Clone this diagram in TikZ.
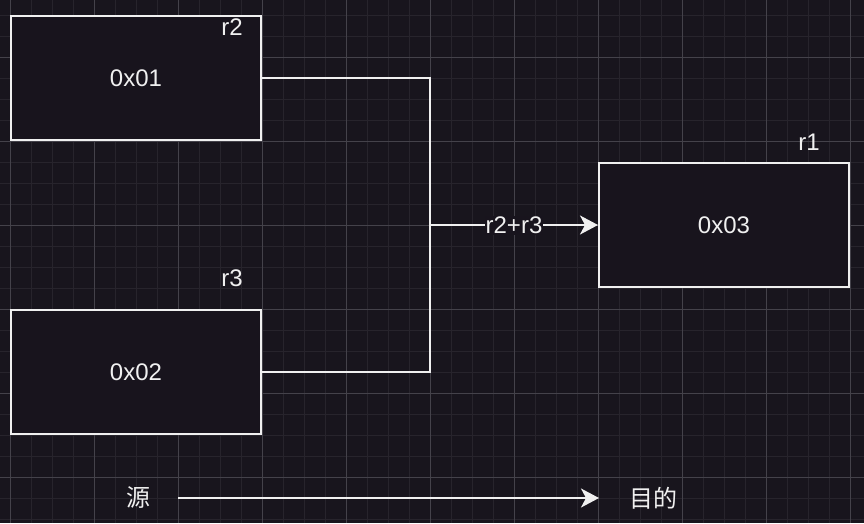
\documentclass[tikz,border=0pt]{standalone}
\usepackage{fontspec}
\setmainfont{Liberation Sans}
\newfontfamily\cjk{Noto Sans CJK SC}
\usetikzlibrary{arrows.meta}
\definecolor{bg}{HTML}{18151D}
\definecolor{boxfill}{HTML}{18141D}
\definecolor{gridminor}{HTML}{27242C}
\definecolor{gridmajor}{HTML}{44424A}
\definecolor{fg}{HTML}{F0F0F0}
\tikzset{
  minorline/.style={draw=gridminor, line width=1pt},
  majorline/.style={draw=gridmajor, line width=1pt},
  box/.style={draw=fg, fill=boxfill, line width=2pt, minimum width=250pt, minimum height=124pt, inner sep=0pt, text=fg, font=\fontsize{24}{28}\selectfont},
  lbl/.style={text=fg, inner sep=0pt, font=\fontsize{24}{28}\selectfont},
  wire/.style={draw=fg, line width=2pt},
  arr/.style={wire, -{Stealth[length=18pt, width=19pt, inset=5pt]}}
}
\begin{document}
\begin{tikzpicture}[x=1pt,y=-1pt]
\fill[bg] (0,0) rectangle (864,523);
\useasboundingbox (0,0) rectangle (864,523);
\foreach \i in {0,...,41} { \draw[minorline] ({10+21*\i},0) -- ({10+21*\i},523); }
\foreach \i in {0,...,24} { \draw[minorline] (0,{15+21*\i}) -- (864,{15+21*\i}); }
\foreach \i in {0,...,10} { \draw[majorline] ({10+84*\i},0) -- ({10+84*\i},523); }
\foreach \i in {0,...,5} { \draw[majorline] (0,{57+84*\i}) -- (864,{57+84*\i}); }

\node[box] (a) at (136,78) {0x01};
\node[box] (b) at (136,372) {0x02};
\node[box] (c) at (724,225) {0x03};
\node[lbl] (la) at (232,27) {r2};
\node[lbl] (lb) at (232,278) {r3};
\node[lbl] (lc) at (809,142) {r1};

\coordinate (j) at (430,225);
\draw[wire] (a.east) -| (j);
\draw[wire] (b.east) -| (j);
\draw[arr] (j) -- (c.west) node[pos=0.5, fill=boxfill, lbl, inner sep=1pt] (sum) {r2+r3};

\node[lbl] (src) at (138,498) {\cjk 源};
\node[lbl] (dst) at (653,498) {\cjk 目的};
\coordinate (s0) at (178,498);
\coordinate (s1) at (599,498);
\draw[arr] (s0) -- (s1);
\end{tikzpicture}
\end{document}
